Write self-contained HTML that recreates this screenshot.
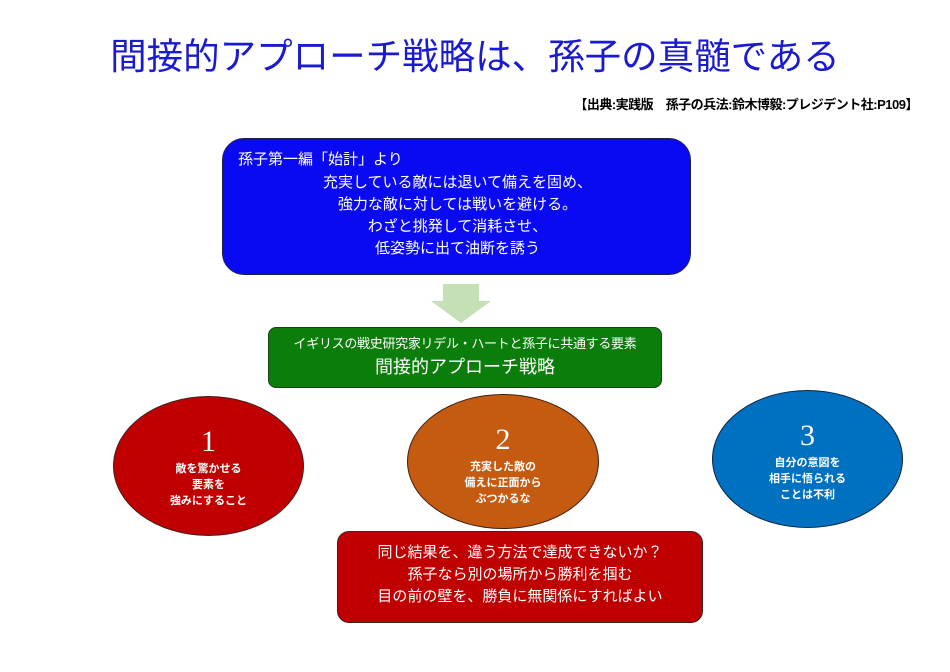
<!DOCTYPE html>
<html><head><meta charset="utf-8"><style>
body{margin:0;width:950px;height:672px;background:#fff;position:relative;overflow:hidden;font-family:"Liberation Sans","Noto Sans CJK JP",sans-serif;}
.a{position:absolute;box-sizing:border-box;}
.t{color:#fff;}
</style></head><body>
<div class="a" style="left:0;top:27px;width:950px;text-align:center;font-size:36.5px;color:#1a1ad0;">間接的アプローチ戦略は、孫子の真髄である</div>
<div class="a" style="left:480px;top:94px;width:438px;text-align:right;font-size:13px;color:#000;font-weight:bold;letter-spacing:-0.5px;">【出典:実践版　孫子の兵法:鈴木博毅:プレジデント社:P109】</div>

<div class="a t" style="left:222px;top:138px;width:469px;height:137px;background:#0a0af2;border:1.5px solid #202050;border-radius:22px;font-size:15px;line-height:22px;">
<div class="a" style="left:15px;top:10px;">孫子第一編「始計」より</div>
<div class="a" style="left:0;top:33px;width:469px;text-align:center;">充実している敵には退いて備えを固め、<br>強力な敵に対しては戦いを避ける。<br>わざと挑発して消耗させ、<br>低姿勢に出て油断を誘う</div>
</div>

<svg class="a" style="left:430px;top:284px" width="62" height="40"><polygon points="13,0 49,0 49,17 61,17 31,39 1,17 13,17" fill="#c5e0b4"/></svg>

<div class="a t" style="left:268px;top:327px;width:394px;height:61px;background:#0b7d0b;border:1.5px solid #1a401a;border-radius:8px;text-align:center;">
<div style="font-size:13px;margin-top:5px;letter-spacing:-0.3px;">イギリスの戦史研究家リデル・ハートと孫子に共通する要素</div>
<div style="font-size:18px;margin-top:1px;">間接的アプローチ戦略</div>
</div>

<div class="a t" style="left:113px;top:396px;width:191px;height:140px;border-radius:50%;background:#c00000;border:1.5px solid #402020;text-align:center;font-size:11px;line-height:16px;font-weight:bold;">
<div style="font-size:30px;line-height:30px;margin-top:30px;font-family:'Liberation Serif',serif;font-weight:normal;">1</div><div style="margin-top:4px;">敵を驚かせる<br>要素を<br>強みにすること</div></div>
<div class="a t" style="left:407px;top:394px;width:192px;height:135px;border-radius:50%;background:#c55a11;border:1.5px solid #402010;text-align:center;font-size:11px;line-height:16px;font-weight:bold;">
<div style="font-size:30px;line-height:30px;margin-top:30px;font-family:'Liberation Serif',serif;font-weight:normal;">2</div><div style="margin-top:4px;">充実した敵の<br>備えに正面から<br>ぶつかるな</div></div>
<div class="a t" style="left:712px;top:390px;width:191px;height:138px;border-radius:50%;background:#0070c0;border:1.5px solid #102040;text-align:center;font-size:11px;line-height:16px;font-weight:bold;">
<div style="font-size:30px;line-height:30px;margin-top:30px;font-family:'Liberation Serif',serif;font-weight:normal;">3</div><div style="margin-top:4px;">自分の意図を<br>相手に悟られる<br>ことは不利</div></div>

<div class="a t" style="left:337px;top:531px;width:366px;height:92px;background:#c00000;border:1.5px solid #402020;border-radius:12px;text-align:center;font-size:15px;line-height:22px;padding-top:10px;">同じ結果を、違う方法で達成できないか？<br>孫子なら別の場所から勝利を掴む<br>目の前の壁を、勝負に無関係にすればよい</div>
</body></html>
